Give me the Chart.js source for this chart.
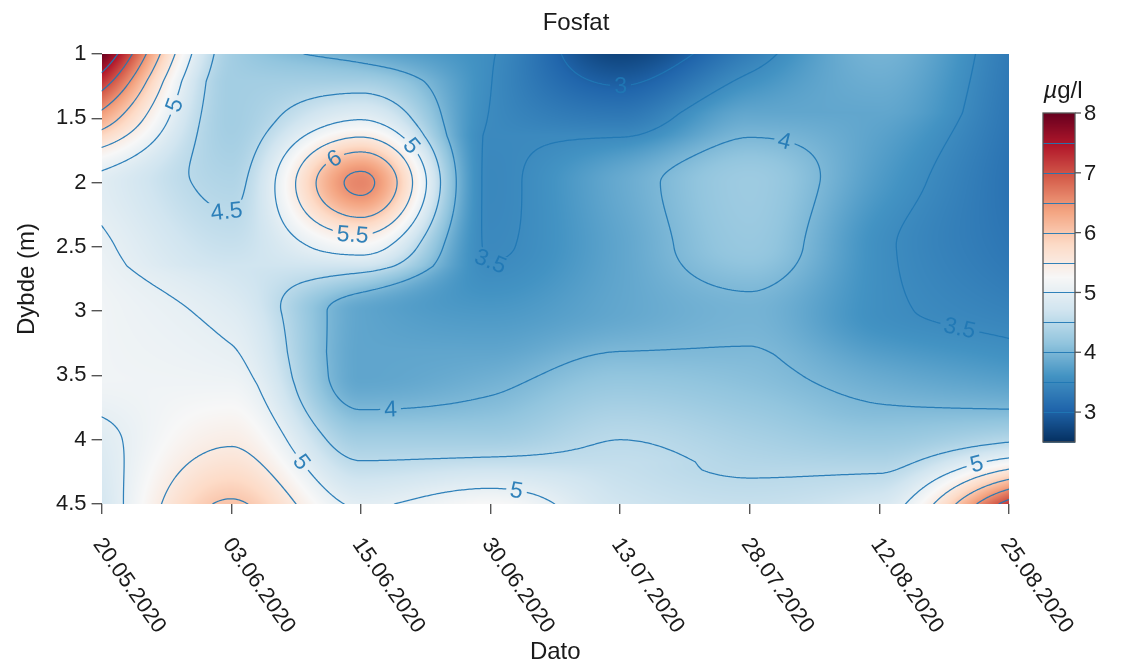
<!DOCTYPE html>
<html lang="no">
<head>
<meta charset="utf-8">
<title>Fosfat</title>
<script src="https://cdn.jsdelivr.net/npm/chart.js@4.4.1/dist/chart.umd.min.js"></script>
<style>
  html, body { margin: 0; padding: 0; background: #ffffff; }
  #wrap { width: 1124px; height: 665px; }
</style>
</head>
<body>
<div id="wrap"><canvas id="fosfat" width="1124" height="665"></canvas></div>
<script>
// ---------------- data ----------------
const dates = ['20.05.2020', '03.06.2020', '15.06.2020', '30.06.2020',
               '13.07.2020', '28.07.2020', '12.08.2020', '25.08.2020'];
const depths = [1, 1.5, 2, 2.5, 3, 3.5, 4, 4.5];

// phosphate (µg/l) per sampling date, from 1 m down to 4.5 m
const p_20_05 = [8.0, 6.3, 4.92, 5.05, 5.15, 5.15, 4.9, 4.75];
const p_03_06 = [4.3, 4.3, 4.42, 4.62, 4.9, 5.1, 5.45, 6.05];
const p_15_06 = [3.85, 4.97, 6.6, 5.2, 3.8, 3.8, 4.3, 4.95];
const p_30_06 = [3.52, 3.49, 3.46, 3.48, 3.66, 3.9, 4.3, 5.25];
const p_13_07 = [2.7, 3.3, 3.85, 3.8, 3.82, 4.15, 4.5, 4.7];
const p_28_07 = [3.35, 3.85, 4.25, 4.2, 3.95, 4.08, 4.35, 4.6];
const p_12_08 = [3.95, 3.8, 3.68, 3.55, 3.55, 3.85, 4.22, 4.78];
const p_25_08 = [3.3, 3.25, 3.2, 3.25, 3.4, 3.7, 4.45, 7.2];

const contourLevels = [2.5, 3, 3.5, 4, 4.5, 5, 5.5, 6, 6.5, 7, 7.5];
const colorbarTicks = [3, 4, 5, 6, 7, 8];
const colorRange = [2.5, 8];

// labelled contours: level and approximate spot on it (date index, depth)
const contourLabels = [
  { level: 5,   at: [0.47, 1.36] },
  { level: 4.5, at: [0.95, 2.31] },
  { level: 6,   at: [1.81, 1.85] },
  { level: 5,   at: [2.39, 1.72] },
  { level: 5.5, at: [1.94, 2.42] },
  { level: 3,   at: [4.01, 1.26] },
  { level: 3.5, at: [2.99, 2.78] },
  { level: 4,   at: [5.25, 1.75] },
  { level: 3.5, at: [6.60, 3.22] },
  { level: 4,   at: [2.24, 3.89] },
  { level: 5,   at: [1.50, 4.21] },
  { level: 5,   at: [3.20, 4.37] },
  { level: 5,   at: [6.76, 4.22] }
];

// ---------------- look ----------------
const FONT = "'Liberation Sans', Arial, Helvetica, sans-serif";
const TEXT = '#1a1a1a';
const AXIS = '#555555';
const LINE = 'rgba(31,119,180,0.92)';
const LABEL_FONT = `23px ${FONT}`;
const RDBU_R = ['#053061', '#2166ac', '#4393c3', '#92c5de', '#d1e5f0', '#f7f7f7',
                '#fddbc7', '#f4a582', '#d6604d', '#b2182b', '#67001f']
  .map(h => [parseInt(h.slice(1, 3), 16), parseInt(h.slice(3, 5), 16), parseInt(h.slice(5, 7), 16)]);

function colorFor(v) {
  let f = (v - colorRange[0]) / (colorRange[1] - colorRange[0]);
  f = Math.max(0, Math.min(1, f)) * (RDBU_R.length - 1);
  const k = Math.min(Math.floor(f), RDBU_R.length - 2);
  const s = f - k, a = RDBU_R[k], b = RDBU_R[k + 1];
  return [a[0] + (b[0] - a[0]) * s, a[1] + (b[1] - a[1]) * s, a[2] + (b[2] - a[2]) * s];
}

// ---------------- monotone cubic interpolation on the grid ----------------
// interior slopes: Fritsch–Carlson harmonic mean (zero at local extrema),
// end slopes: one-sided secant
function pchipSlopes(y) {
  const n = y.length, d = new Array(n).fill(0), m = [];
  for (let k = 0; k < n - 1; k++) m.push(y[k + 1] - y[k]);
  for (let k = 1; k < n - 1; k++) {
    d[k] = (m[k - 1] * m[k] <= 0) ? 0 : 2 / (1 / m[k - 1] + 1 / m[k]);
  }
  d[0] = m[0];
  d[n - 1] = m[n - 2];
  return d;
}
function pchipEval(y, d, t) {
  const n = y.length;
  t = Math.max(0, Math.min(n - 1, t));
  let k = Math.floor(t);
  if (k > n - 2) k = n - 2;
  const s = t - k, s2 = s * s, s3 = s2 * s;
  return (2 * s3 - 3 * s2 + 1) * y[k] + (s3 - 2 * s2 + s) * d[k]
       + (-2 * s3 + 3 * s2) * y[k + 1] + (s3 - s2) * d[k + 1];
}

const profiles = [p_20_05, p_03_06, p_15_06, p_30_06, p_13_07, p_28_07, p_12_08, p_25_08];
const profileSlopes = profiles.map(pchipSlopes);
const depthStep = depths[1] - depths[0];

function rowAt(depth) {
  const t = (depth - depths[0]) / depthStep;
  const row = profiles.map((p, i) => pchipEval(p, profileSlopes[i], t));
  return { row, slopes: pchipSlopes(row) };
}

// ---------------- drawing helpers ----------------
function drawField(chart) {
  const { ctx, chartArea: a, scales: { x, y } } = chart;
  const x0 = Math.round(a.left), y0 = Math.round(a.top);
  const w = Math.round(a.right) - x0, h = Math.round(a.bottom) - y0;
  const img = ctx.createImageData(w, h);
  const xs = new Float64Array(w);
  for (let i = 0; i < w; i++) xs[i] = x.getValueForPixel(x0 + i + 0.5);
  for (let j = 0; j < h; j++) {
    const r = rowAt(y.getValueForPixel(y0 + j + 0.5));
    for (let i = 0; i < w; i++) {
      const c = colorFor(pchipEval(r.row, r.slopes, xs[i]));
      const k = (j * w + i) * 4;
      img.data[k] = c[0]; img.data[k + 1] = c[1]; img.data[k + 2] = c[2]; img.data[k + 3] = 255;
    }
  }
  ctx.putImageData(img, x0, y0);
}

function buildContours(chart, step) {
  const { chartArea: a, scales: { x, y } } = chart;
  const nx = Math.ceil((a.right - a.left) / step) + 1;
  const ny = Math.ceil((a.bottom - a.top) / step) + 1;
  const px = [], py = [];
  for (let i = 0; i < nx; i++) px.push(Math.min(a.left + i * step, a.right));
  for (let j = 0; j < ny; j++) py.push(Math.min(a.top + j * step, a.bottom));
  const xi = px.map(p => x.getValueForPixel(p));
  const grid = py.map(p => {
    const r = rowAt(y.getValueForPixel(p));
    return xi.map(t => pchipEval(r.row, r.slopes, t));
  });
  const lerp = (p0, p1, v0, v1, lv) => p0 + (p1 - p0) * ((lv - v0) / (v1 - v0));
  const out = new Map();
  for (const lv of contourLevels) {
    const segs = [];
    for (let j = 0; j < ny - 1; j++) {
      for (let i = 0; i < nx - 1; i++) {
        const tl = grid[j][i], tr = grid[j][i + 1], br = grid[j + 1][i + 1], bl = grid[j + 1][i];
        const c = (tl > lv ? 8 : 0) | (tr > lv ? 4 : 0) | (br > lv ? 2 : 0) | (bl > lv ? 1 : 0);
        if (c === 0 || c === 15) continue;
        const T = () => [lerp(px[i], px[i + 1], tl, tr, lv), py[j]];
        const R = () => [px[i + 1], lerp(py[j], py[j + 1], tr, br, lv)];
        const B = () => [lerp(px[i], px[i + 1], bl, br, lv), py[j + 1]];
        const L = () => [px[i], lerp(py[j], py[j + 1], tl, bl, lv)];
        const add = (p, q) => segs.push([p[0], p[1], q[0], q[1]]);
        const mid = (tl + tr + br + bl) / 4;
        switch (c) {
          case 1: case 14: add(L(), B()); break;
          case 2: case 13: add(B(), R()); break;
          case 3: case 12: add(L(), R()); break;
          case 4: case 11: add(T(), R()); break;
          case 6: case 9: add(T(), B()); break;
          case 7: case 8: add(L(), T()); break;
          case 5:
            if (mid > lv) { add(L(), T()); add(B(), R()); } else { add(T(), R()); add(L(), B()); }
            break;
          case 10:
            if (mid > lv) { add(T(), R()); add(L(), B()); } else { add(L(), T()); add(B(), R()); }
            break;
        }
      }
    }
    out.set(lv, segs);
  }
  return out;
}

function levelText(lv) { return Number.isInteger(lv) ? String(lv) : lv.toFixed(1); }

function placeLabels(chart, contours) {
  const { ctx, scales: { x, y } } = chart;
  ctx.font = LABEL_FONT;
  const placed = [];
  for (const spec of contourLabels) {
    const segs = contours.get(spec.level);
    if (!segs || !segs.length) continue;
    const tx = x.getPixelForValue(spec.at[0]), ty = y.getPixelForValue(spec.at[1]);
    let best = null, bd = Infinity;
    for (const s of segs) {
      const mx = (s[0] + s[2]) / 2, my = (s[1] + s[3]) / 2;
      const d = (mx - tx) ** 2 + (my - ty) ** 2;
      if (d < bd) { bd = d; best = s; }
    }
    const cx = (best[0] + best[2]) / 2, cy = (best[1] + best[3]) / 2;
    const rx = best[2] - best[0], ry = best[3] - best[1];
    let sx = 0, sy = 0;
    for (const s of segs) {
      const mx = (s[0] + s[2]) / 2, my = (s[1] + s[3]) / 2;
      if ((mx - cx) ** 2 + (my - cy) ** 2 > 16 * 16) continue;
      let dx = s[2] - s[0], dy = s[3] - s[1];
      if (dx * rx + dy * ry < 0) { dx = -dx; dy = -dy; }
      sx += dx; sy += dy;
    }
    let ang = Math.atan2(sy, sx);
    if (ang > Math.PI / 2) ang -= Math.PI;
    if (ang < -Math.PI / 2) ang += Math.PI;
    const text = levelText(spec.level);
    const w = ctx.measureText(text).width;
    placed.push({ text, cx, cy, ang, hw: w / 2 + 4, hh: 10 });
  }
  return placed;
}

function drawContours(chart) {
  const { ctx, chartArea: a } = chart;
  const contours = buildContours(chart, 2);
  const labels = placeLabels(chart, contours);

  ctx.save();
  ctx.beginPath();
  ctx.rect(a.left, a.top, a.right - a.left, a.bottom - a.top);
  for (const l of labels) {
    const c = Math.cos(l.ang), s = Math.sin(l.ang);
    const pts = [[-l.hw, -l.hh], [l.hw, -l.hh], [l.hw, l.hh], [-l.hw, l.hh]]
      .map(([u, v]) => [l.cx + u * c - v * s, l.cy + u * s + v * c]);
    ctx.moveTo(pts[0][0], pts[0][1]);
    for (let k = 1; k < 4; k++) ctx.lineTo(pts[k][0], pts[k][1]);
    ctx.closePath();
  }
  ctx.clip('evenodd');
  ctx.strokeStyle = LINE;
  ctx.lineWidth = 1.25;
  ctx.lineCap = 'round';
  ctx.lineJoin = 'round';
  ctx.beginPath();
  for (const segs of contours.values()) {
    for (const s of segs) { ctx.moveTo(s[0], s[1]); ctx.lineTo(s[2], s[3]); }
  }
  ctx.stroke();
  ctx.restore();

  ctx.save();
  ctx.fillStyle = LINE;
  ctx.font = LABEL_FONT;
  ctx.textAlign = 'center';
  ctx.textBaseline = 'middle';
  for (const l of labels) {
    ctx.save();
    ctx.translate(l.cx, l.cy);
    ctx.rotate(l.ang);
    ctx.fillText(l.text, 0, 1);
    ctx.restore();
  }
  ctx.restore();
}

function drawColorbar(chart) {
  const { ctx, chartArea: a } = chart;
  const left = a.right + 34, right = left + 32;
  const top = a.top + 59, bottom = a.top + 388;
  const H = bottom - top, span = colorRange[1] - colorRange[0];
  const yOf = v => top + (colorRange[1] - v) / span * H;
  ctx.save();
  for (let py = Math.floor(top); py < Math.ceil(bottom); py++) {
    const v = colorRange[1] - ((py + 0.5 - top) / H) * span;
    const c = colorFor(v);
    ctx.fillStyle = `rgb(${c[0] | 0},${c[1] | 0},${c[2] | 0})`;
    ctx.fillRect(left, py, right - left, 1);
  }
  ctx.strokeStyle = LINE;
  ctx.lineWidth = 1;
  for (const lv of contourLevels) {
    const yy = Math.round(yOf(lv)) + 0.5;
    ctx.beginPath(); ctx.moveTo(left, yy); ctx.lineTo(right, yy); ctx.stroke();
  }
  ctx.strokeStyle = AXIS;
  ctx.lineWidth = 1.3;
  ctx.strokeRect(left, top, right - left, H);
  ctx.fillStyle = TEXT;
  ctx.font = `22px ${FONT}`;
  ctx.textAlign = 'left';
  ctx.textBaseline = 'middle';
  for (const t of colorbarTicks) {
    const yy = yOf(t);
    ctx.beginPath(); ctx.moveTo(right, yy); ctx.lineTo(right + 6, yy); ctx.stroke();
    ctx.fillText(String(t), right + 9, yy + 1);
  }
  // unit above the bar
  ctx.textBaseline = 'alphabetic';
  ctx.font = `italic 24px ${FONT}`;
  const mu = 'µ', rest = 'g/l';
  const wMu = ctx.measureText(mu).width;
  ctx.font = `24px ${FONT}`;
  const wRest = ctx.measureText(rest).width;
  const startX = (left + right) / 2 - (wMu + wRest) / 2 + 4;
  ctx.font = `italic 24px ${FONT}`;
  ctx.fillText(mu, startX, top - 15);
  ctx.font = `24px ${FONT}`;
  ctx.fillText(rest, startX + wMu, top - 15);
  ctx.restore();
}

function drawTexts(chart) {
  const { ctx, chartArea: a, scales: { x } } = chart;
  ctx.save();
  ctx.fillStyle = TEXT;
  // rotated date labels
  ctx.font = `22px ${FONT}`;
  ctx.textAlign = 'left';
  ctx.textBaseline = 'alphabetic';
  dates.forEach((d, i) => {
    const px = x.getPixelForValue(i);
    ctx.save();
    ctx.translate(px - 9, a.bottom + 40);
    ctx.rotate(55 * Math.PI / 180);
    ctx.fillText(d, 0, 0);
    ctx.restore();
  });
  // title and axis titles
  ctx.textAlign = 'center';
  ctx.textBaseline = 'middle';
  ctx.font = `24px ${FONT}`;
  ctx.fillText('Fosfat', 576, 23);
  ctx.fillText('Dato', (a.left + a.right) / 2, 652);
  ctx.save();
  ctx.translate(27, (a.top + a.bottom) / 2);
  ctx.rotate(-Math.PI / 2);
  ctx.fillText('Dybde (m)', 0, 0);
  ctx.restore();
  ctx.restore();
}

const fieldPlugin = {
  id: 'fosfatField',
  beforeDatasetsDraw(chart) { drawField(chart); drawContours(chart); },
  afterDraw(chart) { drawColorbar(chart); drawTexts(chart); }
};

new Chart(document.getElementById('fosfat'), {
  type: 'scatter',
  data: { datasets: [{ data: [] }] },
  options: {
    responsive: false,
    animation: false,
    devicePixelRatio: 1,
    events: [],
    layout: { padding: { left: 51, right: 115, top: 54, bottom: 151 } },
    plugins: { legend: { display: false }, tooltip: { enabled: false }, title: { display: false } },
    scales: {
      x: {
        type: 'linear', min: 0, max: dates.length - 1,
        afterBuildTicks: s => { s.ticks = dates.map((_, i) => ({ value: i })); },
        ticks: { display: false },
        grid: { display: true, drawOnChartArea: false, drawTicks: true, tickLength: 10, color: AXIS, lineWidth: 1.4 },
        border: { display: false }
      },
      y: {
        type: 'linear', reverse: true, min: depths[0], max: depths[depths.length - 1],
        afterBuildTicks: s => { s.ticks = depths.map(d => ({ value: d })); },
        ticks: { color: TEXT, padding: 5, font: { family: FONT, size: 22 }, callback: v => String(v) },
        grid: { display: true, drawOnChartArea: false, drawTicks: true, tickLength: 10, color: AXIS, lineWidth: 1.4 },
        border: { display: false }
      }
    }
  },
  plugins: [fieldPlugin]
});
</script>
</body>
</html>
